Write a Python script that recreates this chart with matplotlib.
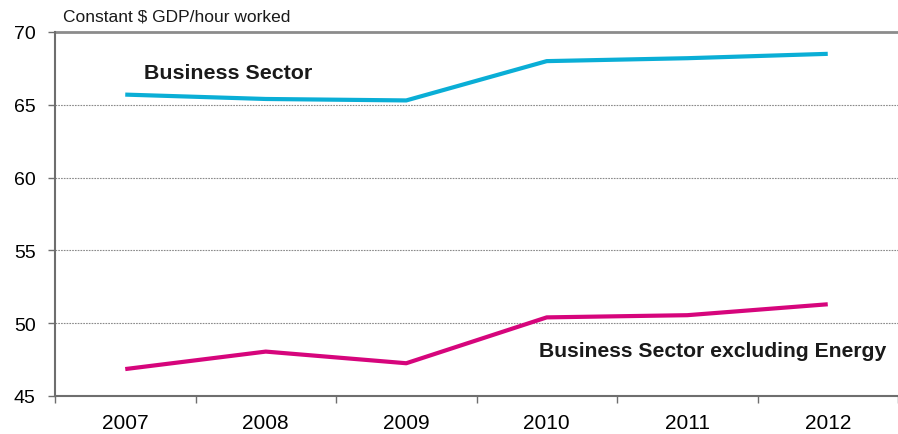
import numpy as np
import matplotlib
matplotlib.use('Agg')
import matplotlib.pyplot as plt

plt.rcParams['font.family'] = ['Liberation Sans', 'DejaVu Sans']

YEARS = ['2007', '2008', '2009', '2010', '2011', '2012']
BUSINESS = [65.7, 65.4, 65.3, 68.0, 68.2, 68.5]
EXCL_ENERGY = [46.85, 48.05, 47.25, 50.4, 50.55, 51.3]
Y_TICKS = [45, 50, 55, 60, 65, 70]

CYAN = '#0aaed6'
MAGENTA = '#d6057c'
AXIS_GREY = '#6e6e6e'

fig = plt.figure(figsize=(8.98, 4.35), dpi=100)
ax = fig.add_axes([55 / 898, 1 - 397 / 435, 1 - 55 / 898, 364 / 435])

xs = np.arange(len(YEARS))
ax.plot(xs, BUSINESS, color=CYAN, lw=3, solid_capstyle='butt', zorder=3)
ax.plot(xs, EXCL_ENERGY, color=MAGENTA, lw=3, solid_capstyle='butt', zorder=3)

ax.set_ylim(45, 70)
ax.set_xlim(-0.5, 5.416)
ax.set_yticks(Y_TICKS)
ax.set_yticklabels([str(v) for v in Y_TICKS], fontsize=14)

# year labels sit in the middle of each category, ticks on the boundaries
ax.set_xticks(xs)
ax.set_xticklabels(YEARS, fontsize=15)
ax.tick_params(axis='x', which='major', length=0, pad=12)
ax.set_xticks(np.arange(len(YEARS) + 1) - 0.5, minor=True)
ax.tick_params(axis='x', which='minor', length=5, width=1, color=AXIS_GREY)
ax.tick_params(axis='y', length=5, width=1, color=AXIS_GREY, pad=9)

for v in Y_TICKS[1:-1]:
    ax.axhline(v, color='#8a8a8a', lw=0.8, ls=(0, (1.5, 1)), zorder=1)
ax.axhline(70, color='#8c8c8c', lw=2, zorder=1, clip_on=False)

for side in ['top', 'right']:
    ax.spines[side].set_visible(False)
for side in ['left', 'bottom']:
    ax.spines[side].set_color(AXIS_GREY)
    ax.spines[side].set_linewidth(1.5)

ax.text(0.13, 67.2, 'Business Sector', fontsize=15.4, fontweight='bold',
        color='#1a1a1a', va='center', ha='left')
ax.text(5.415, 48.1, 'Business Sector excluding Energy', fontsize=15.2,
        fontweight='bold', color='#1a1a1a', va='center', ha='right')

fig.text(63 / 898, 1 - 17 / 435, 'Constant $ GDP/hour worked', fontsize=12.5,
         va='center', ha='left', color='#1a1a1a')

fig.savefig('out.png', dpi=100)
